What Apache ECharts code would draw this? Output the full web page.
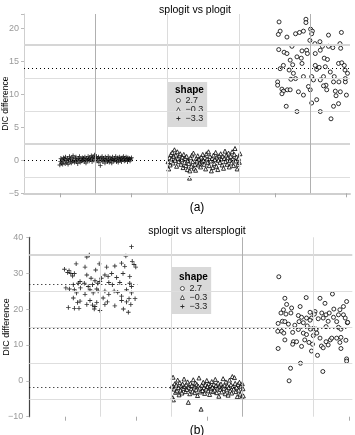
<!DOCTYPE html>
<html><head><meta charset="utf-8">
<script src="https://cdn.jsdelivr.net/npm/echarts@6/dist/echarts.min.js"></script>
<style>html,body{margin:0;padding:0;background:#fff}#c{width:355px;height:435px}</style>
</head><body><div id="c"></div>
<script>
// ---------- DATA ----------
var groupNames = ['2.7', '\u22120.3', '\u22123.3'];
var titles = ['splogit vs plogit', 'splogit vs altersplogit'];
var captions = ['(a)', '(b)'];
var yTicksA = [-5, 0, 5, 10, 15, 20];
var yTicksB = [-10, 0, 10, 20, 30, 40];

// panel (a): [jittered position, DIC difference]
var aPlus = [[1.00,-0.7],[1.02,-0.2],[1.03,0.3],[1.05,-0.4],[1.06,0.1],[1.08,-0.6],[1.10,0.4],[1.11,-0.1],[1.13,0.2],[1.15,-0.5],[1.16,0.5],[1.18,0.0],[1.20,-0.3],[1.22,0.3],[1.23,-0.6],[1.25,0.1],[1.27,0.6],[1.29,-0.2],[1.30,0.2],[1.32,-0.4],[1.34,0.4],[1.36,-0.1],[1.37,0.7],[1.39,0.0],[1.41,-0.3],[1.43,0.3],[1.45,0.5],[1.46,-0.2],[1.48,0.1],[1.50,-0.5],[1.52,0.3],[1.54,0.0],[1.55,0.6],[1.57,-0.3],[1.59,0.2],[1.61,-0.1],[1.63,0.4],[1.64,0.0],[1.66,0.3],[1.68,-0.2],[1.70,0.5],[1.72,0.1],[1.73,-0.4],[1.75,0.3],[1.77,0.0],[1.79,0.6],[1.81,0.2],[1.82,-0.1],[1.84,0.4],[1.86,0.1],[1.88,0.7],[1.90,-0.2],[1.91,0.3],[1.93,0.5],[1.95,0.0],[1.97,0.8],[1.99,0.4],[2.00,0.2],[2.02,0.6],[2.04,-0.1],[2.06,0.3],[2.08,0.5],[2.09,-0.3],[2.11,0.2],[2.13,-0.8],[2.15,0.4],[2.17,0.0],[2.18,0.6],[2.20,-0.2],[2.22,0.3],[2.24,0.1],[2.26,-0.4],[2.27,0.5],[2.29,0.0],[2.31,0.3],[2.33,-0.2],[2.35,0.6],[2.36,0.1],[2.38,-0.3],[2.40,0.4],[2.42,0.0],[2.44,0.2],[2.45,-0.4],[2.47,0.5],[2.49,0.1],[2.51,-0.1],[2.53,0.3],[2.54,0.0],[2.56,0.6],[2.58,-0.2],[2.60,0.2],[2.62,0.4],[2.63,-0.3],[2.65,0.1],[2.67,0.5],[2.69,0.0],[2.71,0.3],[2.72,-0.2],[2.74,0.4],[2.76,0.1],[2.78,0.6],[2.80,-0.1],[2.81,0.3],[2.83,0.0],[2.85,0.5],[2.87,0.2],[2.89,-0.2],[2.90,0.4],[2.92,0.1],[2.94,0.3],[2.96,-0.1],[2.98,0.2],[3.00,0.4]];
var aTri = [[4.02,-0.2],[4.04,-1.3],[4.06,0.4],[4.08,-0.7],[4.10,0.9],[4.12,0.2],[4.14,1.2],[4.16,-0.4],[4.18,0.6],[4.20,1.6],[4.22,0.0],[4.24,0.8],[4.26,-0.9],[4.28,1.3],[4.30,0.3],[4.32,-0.2],[4.34,0.7],[4.36,1.0],[4.38,-0.6],[4.40,0.1],[4.42,0.5],[4.44,-1.1],[4.46,0.9],[4.48,-0.3],[4.50,0.3],[4.52,-0.8],[4.54,0.6],[4.56,-1.4],[4.58,0.0],[4.60,-0.5],[4.62,-2.7],[4.63,-1.6],[4.65,0.4],[4.67,-0.9],[4.69,0.8],[4.71,-0.2],[4.73,1.1],[4.75,-1.2],[4.77,-0.6],[4.79,-1.5],[4.81,0.3],[4.83,-0.1],[4.85,0.7],[4.87,-0.7],[4.89,0.2],[4.91,-0.4],[4.93,-1.0],[4.95,0.5],[4.97,-0.2],[4.99,0.9],[5.01,0.0],[5.03,-0.6],[5.05,0.4],[5.07,-1.3],[5.09,1.0],[5.11,0.2],[5.13,-0.3],[5.15,1.3],[5.17,-0.8],[5.19,0.6],[5.21,-0.1],[5.23,-1.6],[5.25,0.3],[5.27,-1.1],[5.29,0.8],[5.31,-0.5],[5.33,0.1],[5.35,1.2],[5.37,-0.9],[5.39,0.5],[5.41,-1.4],[5.43,0.0],[5.45,0.7],[5.47,-0.3],[5.49,1.0],[5.51,0.2],[5.53,-0.7],[5.55,0.6],[5.57,-1.2],[5.59,0.3],[5.61,1.4],[5.63,-0.2],[5.65,0.8],[5.67,-0.6],[5.69,0.4],[5.71,1.1],[5.73,-1.0],[5.75,0.0],[5.77,0.6],[5.79,-0.4],[5.81,1.3],[5.83,0.2],[5.85,-0.8],[5.87,0.9],[5.89,1.8],[5.91,-0.1],[5.93,0.5],[5.95,-1.3],[5.97,-0.6],[5.99,0.3],[6.01,-0.3],[6.03,1.0]];
var aCirc = [[7.12,21.0],[7.87,21.4],[7.87,20.9],[7.10,19.1],[7.15,19.6],[7.34,18.7],[7.58,19.2],[7.69,19.4],[7.80,19.6],[8.00,19.9],[8.05,19.6],[8.03,19.2],[8.50,19.0],[8.86,19.4],[7.98,18.2],[8.12,17.7],[8.26,18.0],[7.11,16.8],[7.48,17.3],[8.82,17.7],[8.84,17.0],[7.26,16.4],[7.34,16.2],[8.33,17.3],[8.50,17.3],[8.62,17.1],[7.89,16.7],[7.91,16.2],[7.76,16.6],[7.62,15.7],[7.74,15.5],[7.43,15.2],[8.38,15.5],[8.13,16.2],[8.27,16.7],[7.50,14.5],[7.76,14.7],[8.13,14.4],[8.17,13.8],[8.24,14.1],[8.41,14.2],[8.47,15.3],[8.78,14.7],[8.87,14.8],[8.94,14.4],[8.96,13.7],[9.03,13.2],[8.55,13.4],[8.66,12.7],[7.24,14.4],[7.40,13.7],[7.52,13.2],[7.15,13.9],[7.58,12.4],[7.80,12.7],[7.45,12.3],[8.03,12.7],[8.08,12.2],[8.27,12.2],[8.36,12.7],[8.43,11.4],[8.64,11.9],[8.79,11.9],[8.97,11.9],[8.97,12.4],[7.08,11.9],[7.08,11.4],[7.20,10.8],[7.24,10.5],[7.35,10.7],[7.43,10.7],[7.66,10.4],[7.80,9.9],[7.99,10.7],[7.94,11.2],[8.36,11.3],[8.45,10.7],[8.69,10.5],[8.83,10.4],[9.00,9.9],[8.71,9.8],[8.78,8.6],[8.64,8.2],[8.17,9.2],[8.03,8.7],[7.32,8.2],[7.62,7.4],[8.27,7.4],[8.57,6.3],[7.20,10.1]];

// panel (b)
var bPlus = [[2.88,37.4],[2.72,34.8],[1.69,35.1],[1.62,34.5],[1.32,32.6],[1.97,32.6],[1.57,31.7],[0.99,31.1],[1.12,30.7],[1.17,29.9],[1.08,30.2],[1.27,29.9],[1.22,29.2],[1.87,30.9],[2.18,31.7],[2.41,32.0],[2.60,32.8],[2.69,31.9],[2.90,33.3],[2.95,32.4],[3.00,31.7],[2.22,29.1],[2.13,29.5],[2.32,29.9],[2.46,28.8],[2.64,29.9],[2.83,29.1],[1.62,29.5],[1.74,28.6],[1.43,27.7],[1.85,27.9],[1.99,27.7],[2.03,28.6],[2.24,27.4],[2.34,26.8],[2.55,27.4],[2.83,27.2],[1.24,26.8],[1.38,27.2],[1.55,27.2],[1.66,26.3],[1.78,26.8],[1.93,27.2],[1.03,25.9],[1.13,25.6],[1.27,25.4],[1.44,25.9],[1.71,25.4],[1.90,25.6],[2.13,25.0],[2.39,25.0],[2.49,24.7],[2.74,25.4],[2.88,26.3],[1.33,24.5],[1.57,24.1],[1.80,24.5],[1.94,25.0],[2.24,24.1],[2.60,23.6],[2.88,24.5],[2.98,22.9],[1.24,23.1],[1.43,22.2],[1.71,22.4],[1.90,21.8],[2.08,23.1],[2.20,22.0],[2.74,22.0],[2.81,22.9],[2.86,21.3],[1.36,21.8],[1.78,21.1],[2.13,21.3],[2.41,20.9],[1.27,20.2],[1.40,20.2],[1.83,20.0],[1.85,20.7],[2.65,20.0],[2.79,19.1],[1.10,20.4],[1.62,21.3],[2.60,22.4],[1.99,19.6]];
var bTri = [[4.02,-1.5],[4.04,-4.7],[4.05,1.0],[4.06,-5.3],[4.08,-2.3],[4.10,-0.8],[4.12,-3.2],[4.14,-1.2],[4.16,-2.8],[4.18,0.2],[4.20,-1.9],[4.22,-3.9],[4.24,-0.5],[4.26,-2.6],[4.28,-1.4],[4.30,-3.4],[4.32,-0.9],[4.34,-2.1],[4.36,0.5],[4.38,-1.6],[4.40,-3.0],[4.42,-1.1],[4.44,-2.4],[4.46,-0.3],[4.48,-6.0],[4.50,-1.8],[4.52,-3.6],[4.54,-0.7],[4.56,-2.2],[4.58,-1.3],[4.60,-2.9],[4.62,0.3],[4.64,-1.7],[4.66,-3.3],[4.68,-0.6],[4.70,-2.5],[4.72,-1.0],[4.74,-4.1],[4.76,-1.5],[4.78,0.8],[4.80,-2.0],[4.82,-3.1],[4.84,-7.9],[4.86,-1.2],[4.88,-2.7],[4.90,-0.4],[4.92,-1.9],[4.94,-3.5],[4.96,-1.1],[4.98,-2.3],[5.00,0.1],[5.02,-1.6],[5.04,-2.8],[5.06,-0.8],[5.08,-3.8],[5.10,-1.4],[5.12,-2.2],[5.14,-0.2],[5.16,-1.8],[5.18,-3.0],[5.20,-1.0],[5.22,-2.6],[5.24,0.4],[5.26,-1.3],[5.28,-3.3],[5.30,-2.0],[5.32,-0.6],[5.34,-4.3],[5.36,-1.5],[5.38,-2.4],[5.40,-0.9],[5.42,-3.1],[5.44,-1.7],[5.46,0.6],[5.48,-2.1],[5.50,-1.2],[5.52,-3.6],[5.54,-0.3],[5.56,-2.5],[5.58,-1.4],[5.60,-4.0],[5.62,-1.9],[5.64,0.2],[5.66,-2.8],[5.68,-1.1],[5.70,-3.4],[5.72,1.2],[5.74,-1.6],[5.76,-2.3],[5.78,0.9],[5.80,-0.7],[5.82,-3.0],[5.84,-1.8],[5.86,-4.4],[5.88,-1.0],[5.90,-2.6],[5.92,-0.4],[5.94,-3.7],[5.96,-1.5],[5.98,-4.6],[6.00,-0.8],[6.02,-2.2],[6.03,-4.2]];
var bCirc = [[7.03,29.0],[8.54,24.2],[8.19,23.0],[7.20,23.0],[7.25,21.3],[7.80,23.2],[8.33,21.6],[8.94,22.1],[8.85,20.7],[7.63,20.7],[8.58,20.0],[8.75,19.8],[7.39,20.3],[7.16,19.8],[7.09,18.9],[7.23,18.6],[7.37,18.9],[7.91,19.1],[8.05,19.3],[8.03,18.6],[8.24,18.9],[8.36,18.4],[8.45,18.9],[8.71,18.4],[8.85,18.4],[7.58,18.2],[7.67,17.7],[7.81,17.5],[7.95,17.5],[8.14,17.3],[8.28,17.5],[8.57,17.7],[8.90,17.5],[7.13,16.6],[7.20,16.5],[7.72,16.2],[7.60,16.5],[7.91,16.9],[8.42,16.6],[8.66,16.5],[8.96,16.2],[7.01,16.0],[7.30,15.8],[7.48,15.5],[7.83,15.3],[8.00,14.6],[8.08,14.4],[8.36,15.1],[8.71,14.9],[8.78,14.4],[7.00,13.8],[7.11,13.8],[7.17,13.3],[7.42,13.5],[7.58,14.3],[7.72,13.3],[7.92,14.4],[7.81,12.9],[8.10,13.3],[8.19,11.9],[8.00,12.6],[8.36,10.9],[8.48,11.4],[8.52,11.9],[8.66,11.9],[8.78,12.1],[8.92,11.3],[7.20,11.4],[7.44,10.9],[7.53,10.9],[7.67,9.6],[7.42,10.2],[7.76,11.4],[7.88,10.7],[7.98,10.2],[8.23,9.7],[8.28,9.2],[8.42,10.0],[8.75,10.7],[8.78,9.0],[7.01,9.0],[7.95,8.3],[8.12,7.1],[8.94,6.1],[7.64,4.9],[7.36,3.5],[8.27,2.6],[7.32,0.0],[8.94,5.5],[8.97,16.3]];

// group means [value, right end of segment]
var aMeans = [[0.05, 3.0], [0.0, 6.0], [14.0, 9.1]];
var bMeans = [[27.0, 3.05], [-1.9, 6.0], [14.65, 9.0]];
// reference grid lines
var aHGrid = [17.5, 12.5, 7.5, 2.5, -2.5];
var aHGridBold = [17.5, 2.5];
var aVGrid = [2, 4, 6, 8];
var aVGridDark = [2, 8];
var bHGrid = [35, 25, 15, 5, -5];
var bHGridBold = [35];
var bVGrid = [2, 4, 6, 8];
var bVGridDark = [6];
var aTickPos = [1, 3, 7, 9];
var bTickPos = [1, 3, 5, 9];

// ---------- CHART ----------
var FONT = '"Liberation Sans", Arial, sans-serif';
var plusPath = 'path://M4,0 H6 V4 H10 V6 H6 V10 H4 V6 H0 V4 H4 Z';
function minus(v){ return String(v).replace('-', '\u2212'); }

function gridLines(h, hBold, v, vDark){
  var d = [];
  h.forEach(function(y){
    var bold = hBold.indexOf(y) >= 0;
    d.push({yAxis: y, lineStyle: {color: bold ? '#d6d6d6' : '#dedede', width: bold ? 2 : 1, type: 'solid'}});
  });
  v.forEach(function(x){
    var dark = vDark.indexOf(x) >= 0;
    d.push({xAxis: x, lineStyle: {color: dark ? '#b0b0b0' : '#dcdcdc', width: 1, type: 'solid'}});
  });
  return d;
}
function meanLines(m){
  return m.map(function(p){
    return [{coord: [0, p[0]]}, {coord: [p[1], p[0]], lineStyle: {color: '#000', width: 1, type: [1, 3]}}];
  });
}

var chart = echarts.init(document.getElementById('c'), null, {renderer: 'canvas'});
var yAxisName = 'DIC difference';

function scatter(name, data, gi, sym, size){
  var isPlus = sym === plusPath;
  return {
    type: 'scatter', name: name, xAxisIndex: gi, yAxisIndex: gi, data: data,
    symbol: sym, symbolSize: size, z: 3, silent: true,
    itemStyle: isPlus ? {color: '#000', borderWidth: 0} : {color: '#fff', borderColor: '#000', borderWidth: 1},
    emphasis: {disabled: true}
  };
}
function refSeries(gi, gridData, means){
  return {
    type: 'line', name: 'ref' + gi, xAxisIndex: gi, yAxisIndex: gi, data: [], z: 1, silent: true,
    markLine: {silent: true, symbol: ['none', 'none'], label: {show: false}, animation: false,
      data: gridData.concat(meanLines(means))}
  };
}
function legendAt(left, top, padTop, padBottom){
  return {data: groupNames, orient: 'vertical', left: left, top: top, backgroundColor: '#d9d9d9',
    padding: [padTop, 4, padBottom, 8], itemGap: 0, itemWidth: 4, itemHeight: 4, selectedMode: false,
    itemStyle: {borderWidth: 0.8},
    textStyle: {fontSize: 9, lineHeight: 9, color: '#222', fontFamily: FONT}};
}

var option = {
  animation: false,
  textStyle: {fontFamily: FONT},
  grid: [
    {left: 24, top: 14, width: 326, height: 179.3, outerBoundsMode: 'none'},
    {left: 29.3, top: 237.3, width: 323, height: 179.4, outerBoundsMode: 'none'}
  ],
  title: [
    {text: titles[0], left: 190, top: 0, textAlign: 'center', textStyle: {fontSize: 10.5, fontWeight: 'normal', color: '#000', fontFamily: FONT}},
    {text: titles[1], left: 192, top: 221, textAlign: 'center', textStyle: {fontSize: 10.5, fontWeight: 'normal', color: '#000', fontFamily: FONT}},
    {text: captions[0], left: 192, top: 197, textAlign: 'center', textStyle: {fontSize: 12, fontWeight: 'normal', color: '#000', fontFamily: FONT}},
    {text: captions[1], left: 192, top: 420, textAlign: 'center', textStyle: {fontSize: 12, fontWeight: 'normal', color: '#000', fontFamily: FONT}}
  ],
  xAxis: [
    {gridIndex: 0, type: 'value', min: 0, max: 9.1, position: 'bottom',
      axisLine: {show: true, onZero: false, lineStyle: {color: '#cfcfcf', width: 2}},
      axisTick: {show: true, customValues: aTickPos, length: 4, lineStyle: {color: '#aaa'}},
      axisLabel: {show: false}, splitLine: {show: false}},
    {gridIndex: 1, type: 'value', min: 0, max: 9.1, position: 'bottom',
      axisLine: {show: false, onZero: false},
      axisTick: {show: true, customValues: bTickPos, length: 4, inside: false, lineStyle: {color: '#aaa'}},
      axisLabel: {show: false}, splitLine: {show: false}}
  ],
  yAxis: [
    {gridIndex: 0, type: 'value', min: -5, max: 22.2, interval: 5,
      name: yAxisName, nameLocation: 'middle', nameGap: 14, nameMoveOverlap: false,
      nameTextStyle: {fontSize: 8.5, color: '#000', fontFamily: FONT},
      axisLine: {show: true, onZero: false, lineStyle: {color: '#cfcfcf', width: 1}},
      axisTick: {show: true, length: 3, lineStyle: {color: '#bbb'}},
      axisLabel: {fontSize: 9, color: '#999', margin: 5, formatter: function(v){ return yTicksA.indexOf(v) >= 0 ? minus(v) : ''; }},
      splitLine: {show: false}},
    {gridIndex: 1, type: 'value', min: -10, max: 40, interval: 10,
      name: yAxisName, nameLocation: 'middle', nameGap: 18, nameMoveOverlap: false,
      nameTextStyle: {fontSize: 9, color: '#000', fontFamily: FONT},
      axisLine: {show: true, onZero: false, lineStyle: {color: '#444', width: 1.2}},
      axisTick: {show: true, length: 3, lineStyle: {color: '#bbb'}},
      axisLabel: {fontSize: 9, color: '#999', margin: 6, formatter: function(v){ return yTicksB.indexOf(v) >= 0 ? minus(v) : ''; }},
      splitLine: {show: false}}
  ],
  legend: [legendAt(168, 82, 14, 4), legendAt(172, 267, 17, 3)],
  graphic: [
    {type: 'text', left: 175, top: 85, z: 100, style: {text: 'shape', font: 'bold 10px ' + FONT, fill: '#000'}},
    {type: 'text', left: 179, top: 272, z: 100, style: {text: 'shape', font: 'bold 10px ' + FONT, fill: '#000'}}
  ],
  series: [
    refSeries(0, gridLines(aHGrid, aHGridBold, aVGrid, aVGridDark), aMeans),
    refSeries(1, gridLines(bHGrid, bHGridBold, bVGrid, bVGridDark), bMeans),
    scatter(groupNames[0], aCirc, 0, 'circle', 4),
    scatter(groupNames[1], aTri, 0, 'triangle', 4),
    scatter(groupNames[2], aPlus, 0, plusPath, 4.5),
    scatter(groupNames[0], bCirc, 1, 'circle', 4),
    scatter(groupNames[1], bTri, 1, 'triangle', 4),
    scatter(groupNames[2], bPlus, 1, plusPath, 4.5)
  ]
};
chart.setOption(option);
</script>
</body></html>
